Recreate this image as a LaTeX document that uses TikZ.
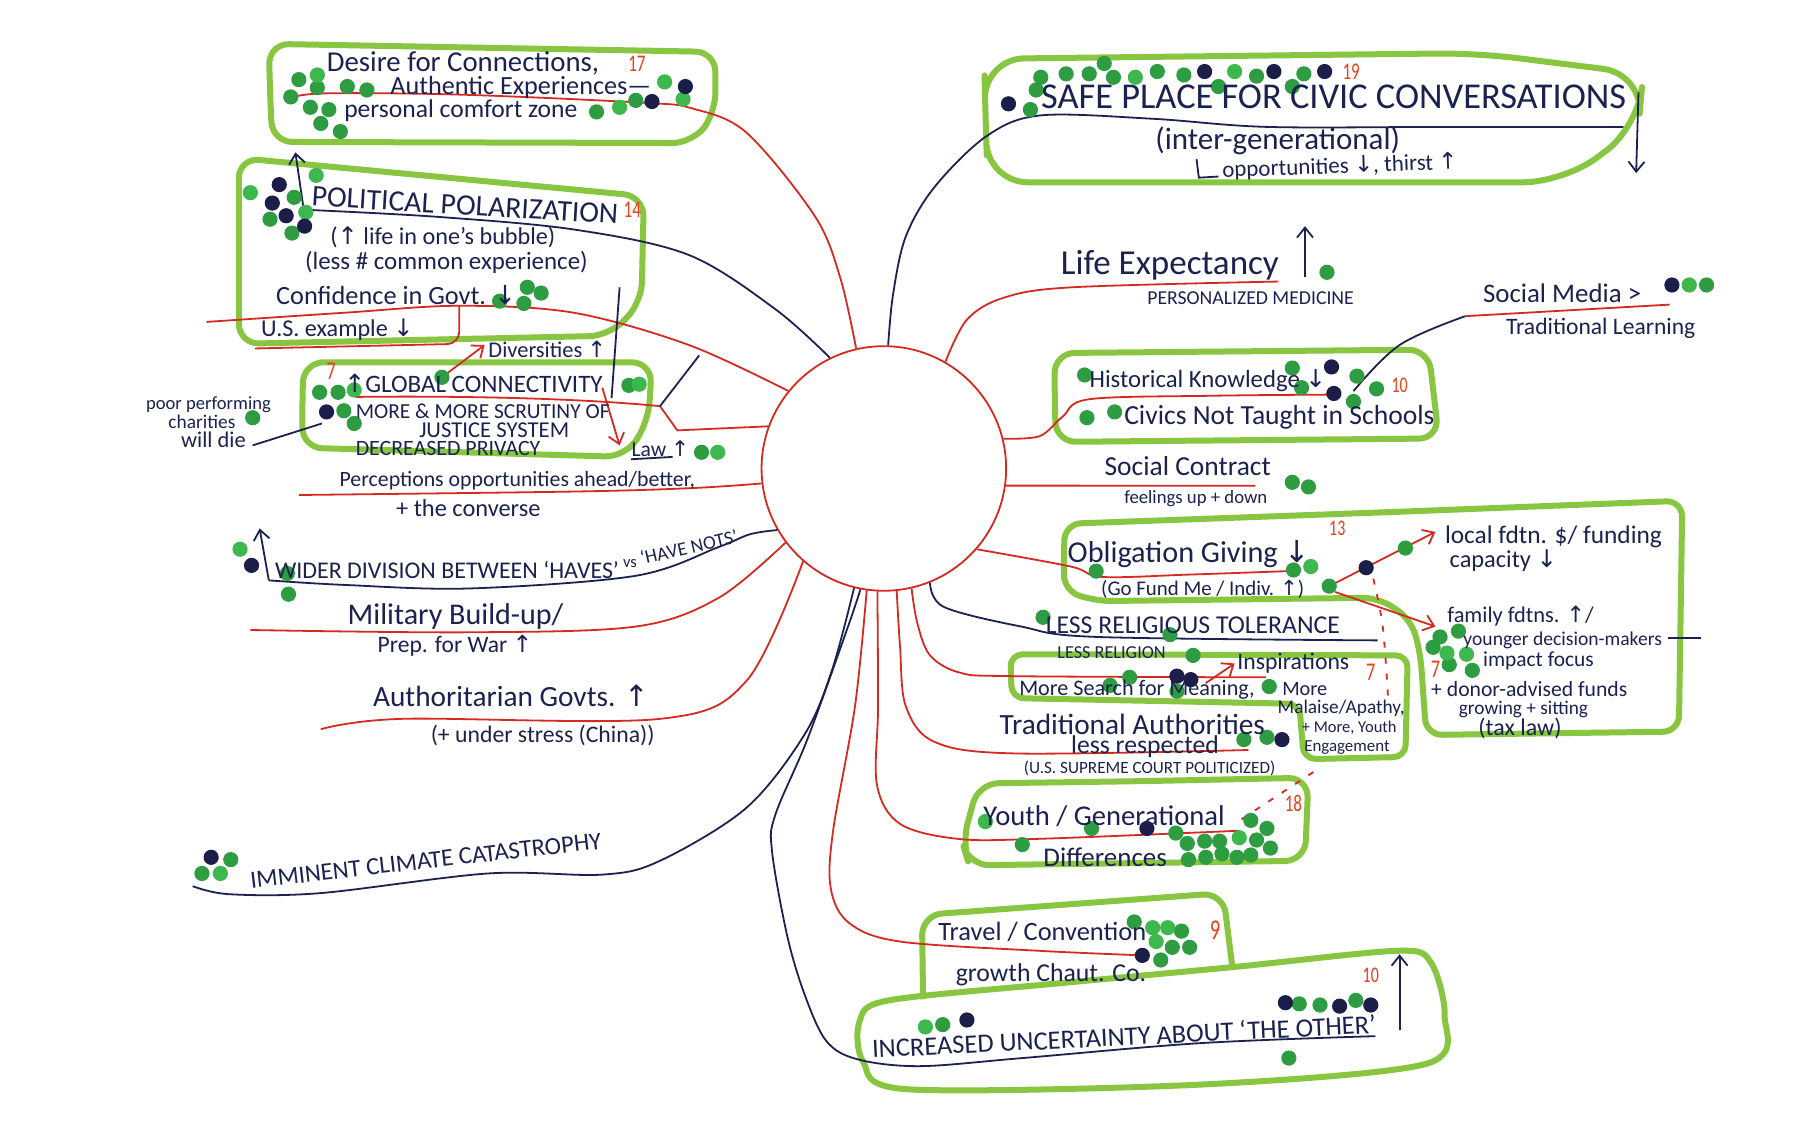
\documentclass[tikz,border=0pt]{standalone}
\usepackage{fontspec}
\usepackage{graphicx}
\setmainfont{Carlito}
\newfontfamily\arrf{DejaVu Sans}
\usetikzlibrary{arrows.meta}
\definecolor{inkc}{HTML}{1C2250}
\definecolor{redc}{HTML}{D42A22}
\definecolor{navc}{HTML}{1C2250}
\definecolor{boxc}{HTML}{88C540}
\definecolor{dotg}{HTML}{2E9C40}
\definecolor{dotl}{HTML}{3DB84C}
\definecolor{dotn}{HTML}{1A1E48}
\definecolor{numc}{HTML}{E8401C}
\newdimen\UX \UX=0.577pt
\newcommand\HW[3][1.0]{\resizebox{#2\UX}{!}{\scalebox{1}[#1]{#3}}}
\newcommand\UPa{{\arrf ↑}}
\newcommand\DNa{{\arrf ↓}}
\tikzset{
  ink/.style={text=inkc, inner sep=0pt},
  num/.style={text=numc, inner sep=0pt},
  redl/.style={draw=redc, line width=0.9pt},
  navl/.style={draw=navc, line width=0.9pt},
  gbox/.style={draw=boxc, line width=3pt, rounded corners=10pt, line join=round},
  harrow/.style={-{Straight Barb[length=5pt,width=8pt]}},
  dashr/.style={draw=redc, line width=0.9pt, dash pattern=on 3pt off 5pt}
}
\begin{document}
\begin{tikzpicture}[x=0.577pt,y=-0.577pt]
\fill[white] (0,0) rectangle (1560,976);
\useasboundingbox (0,0) rectangle (1560,976);

% ---------- green boxes ----------
\draw[gbox] (234,80) -- (233,38) -- (620,45) -- (620,98) -- (600,124) -- (236,123) -- cycle;
\draw[gbox] (207,220) -- (207,137) -- (558,170) -- (556,262) -- (528,291) -- (207,298) -- cycle;
\draw[gbox] (262,350) -- (263,314) -- (565,314) -- (562,365) -- (542,396) -- (262,388) -- cycle;
\draw[gbox, rounded corners=20pt] (854,100) -- (853,51) -- (1280,46) -- (1424,64) -- (1420,110) -- (1355,158) -- (856,158) -- cycle;
\draw[gbox] (914,340) -- (914,306) -- (1238,303) -- (1247,380) -- (915,383) -- cycle;
\draw[gbox, rounded corners=8pt] (922,480) -- (923,454) -- (1200,444) -- (1458,434) -- (1455,634) -- (1236,637) -- (1231,566) -- (1223,537) -- (1195,518) -- (950,521) -- (922,512) -- cycle;
\draw[gbox, rounded corners=6pt] (876,585) -- (876,567) -- (1220,568) -- (1218,656) -- (1130,658) -- (1126,610) -- (877,605) -- cycle;
\draw[gbox] (990,677) -- (1134,674) -- (1131,746) -- (840,750) -- (834,730) -- (848,679) -- cycle;
\draw[gbox] (800,866) -- (799,793) -- (1060,774) -- (1068,838);
\draw[gbox, rounded corners=0pt] plot[smooth cycle, tension=0.5] coordinates {(770,867) (920,852) (1070,838) (1211,824) (1240,834) (1252,880) (1236,922) (1040,940) (786,944) (748,920) (745,885)};

% ---------- hub ----------
\node[circle, draw=redc, line width=0.9pt, minimum size=122.3pt, inner sep=0pt] (hub) at (766,406) {};

% ---------- connectors ----------
\draw[redl] plot[smooth,tension=0.55] coordinates {(hub.103.6) (728,240) (706,187) (647,115) (600,94) (557,89) (398,82) (279,81) (249,86)};
\draw[navl] plot[smooth,tension=0.55] coordinates {(hub.88.4) (774,255) (785,205) (810,162) (855,118) (902,100) (1000,103) (1098,110) (1250,110) (1407,110)};
\draw[navl] plot[smooth,tension=0.55] coordinates {(hub.116.3) (672,268) (597,221) (498,199) (380,188) (269,182)};
\draw[redl] plot[smooth,tension=0.55] coordinates {(hub.141.5) (597,299) (497,271) (398,265) (299,271) (179,279)};
\coordinate (cUS) at (398,265);
\draw[redl, rounded corners=6pt] (cUS) -- (398,298) -- (221,302);
\coordinate (cGl) at (572,352);
\draw[redl] (hub.160) -- (587,373) -- (cGl) .. controls (500,345) and (400,343) .. (308,344);
\draw[navl] (cGl) -- (606,308);
\draw[redl] plot[smooth,tension=0.55] coordinates {(hub.187) (600,423) (498,426) (259,429)};
\draw[navl] plot[smooth,tension=0.55] coordinates {(hub.210.5) (650,463) (623,474) (551,499) (407,510) (300,507) (233,503)};
\coordinate (cWi) at (233,503);
\draw[navl, harrow] (cWi) -- (225,458);
\draw[redl] plot[smooth,tension=0.55] coordinates {(hub.217.7) (623,518) (551,543) (407,548) (217,546)};
\draw[redl] plot[smooth,tension=0.55] coordinates {(hub.229) (647,590) (572,623) (348,623) (278,632)};
\draw[navl] plot[smooth,tension=0.55] coordinates {(hub.256.9) (721,581) (697,637) (647,700) (572,746) (522,758) (423,757) (278,774) (199,775) (167,768)};
\draw[navl] plot[smooth,tension=0.55] coordinates {(hub.259.1) (736,540) (700,640) (672,706) (669,737) (682,810) (697,861) (716,902) (743,918) (797,924) (886,917) (1041,904) (1192,898)};
\draw[redl] plot[smooth,tension=0.55] coordinates {(hub.262.4) (741,612) (722,720) (720,770) (736,800) (780,816) (900,824) (991,828)};
\draw[redl] plot[smooth,tension=0.55] coordinates {(hub.267.8) (761,612) (760,680) (780,714) (830,727) (900,727) (1073,720)};
\draw[redl] plot[smooth,tension=0.55] coordinates {(hub.276) (780,560) (785,612) (810,643) (880,653) (1082,650)};
\draw[redl] plot[smooth,tension=0.55] coordinates {(hub.283.1) (795,540) (806,568) (832,583) (878,586) (1097,587)};
\draw[navl] plot[smooth,tension=0.55] coordinates {(hub.292.2) (818,526) (885,543) (950,552) (1194,555)};
\draw[redl] plot[smooth,tension=0.55] coordinates {(hub.60) (838,277) (870,258) (929,249) (1108,244)};
\draw[redl] plot[smooth,tension=0.55] coordinates {(hub.14.8) (901,378) (921,361) (944,346) (1050,343) (1153,342)};
\draw[redl] (hub.352.6) -- (1088,421);
\draw[redl] plot[smooth,tension=0.55] coordinates {(hub.319.7) (928,491) (955,500) (1030,498) (1115,495)};
\coordinate (cSM) at (1270,274);
\draw[navl] plot[smooth,tension=0.6] coordinates {(1173,339) (1213,299) (cSM)};
\draw[redl] (cSM) -- (1447,264);

% ---------- arrows and marks ----------
\draw[navl, harrow] (264,187) -- (256,132);
\draw[navl, harrow] (1420,80) -- (1418,150);
\draw[navl, harrow] (1131,240) -- (1131,196);
\draw[navl, harrow] (1213,893) -- (1213,827);
\draw[navl] (537,249) -- (530,345);
\draw[redl, harrow] (383,327) -- (420,299);
\draw[redl, harrow] (522,336) -- (537,386);
\draw[redl, harrow] (1152,508) -- (1244,461);
\draw[redl, harrow] (1157,513) -- (1244,543);
\draw[redl, harrow] (1045,592) -- (1070,575);
\draw[dashr] plot[smooth] coordinates {(1187,488) (1198,540) (1203,605)};
\draw[dashr] (1076,710) -- (1143,666);
\draw[navl] (547,398) -- (583,396);
\draw[navl] (1037,138) -- (1039,154) -- (1056,153);
\draw[navl] (1446,553) -- (1474,553);
\draw[navl] (219,386) -- (279,367);

% ---------- dots ----------
\foreach \x/\y in {259/69,275/76,301/75,318/78,252/84,269/93,285/95,278/107,295/114,551/87,517/97,
  255/171,234/190,253/202,433/261,457/249,469/254,454/263,
  277/340,293/340,298/356,307/367,545/334,383/327,219/362,608/392,249/497,250/515,200/745,175/757,
  902/67,924/64,944/64,957/55,965/67,1003/62,1026/65,1089/66,1130/64,893/95,898/78,1056/75,1120/75,
  1150/236,1479/247,940/325,1120/319,1128/336,1176/326,1193/337,1173/348,942/362,966/357,
  1120/418,1134/422,950/495,1121/494,1152/508,1218/475,1248/552,1264/547,1242/561,1256/576,1276/581,
  904/535,1014/550,1034/568,979/587,962/594,1020/599,1100/595,1078/641,1098/639,
  946/718,886/732,1019/722,1084/711,1098/718,1089/728,1101/735,1029/731,1044/729,1057/729,1030/745,1045/743,1059/740,1072/743,1084/741,
  983/799,1024/807,1016/821,1031/821,1006/832,817/888,1126/870,1144/871,1175/867,1117/917}
  \fill[dotg] (\x,\y) circle[radius=3.8pt];
\foreach \x/\y in {275/65,576/71,592/86,537/93,274/152,217/167,265/184,307/338,554/333,622/392,208/476,191/757,
  984/67,1070/62,1464/247,1136/491,1254/566,1271/567,854/712,1074/726,999/804,1012/804,1002/816,802/890}
  \fill[dotl] (\x,\y) circle[radius=3.8pt];
\foreach \x/\y in {594/75,565/88,242/160,236/176,248/187,264/196,283/357,218/490,183/743,
  1044/62,1104/62,1148/62,874/90,1449/247,1154/318,1156/341,1184/492,1020/586,1032/589,1111/641,994/718,990/828,
  838/884,1114/869,1161/872,1188/871}
  \fill[dotn] (\x,\y) circle[radius=3.8pt];

% ---------- texts ----------
\node[ink,anchor=west] (tDes1) at (283,55) {\HW{236}{Desire for Connections,}};
\node[num] (n17) at (552,55) {\HW[1.4]{15}{17}};
\node[ink,anchor=west] (tDes2) at (338,76) {\HW{226}{Authentic Experiences—}};
\node[ink,anchor=west] (tDes3) at (298,96) {\HW{202}{personal comfort zone}};

\node[ink,rotate=-3.4] (tPol) at (403,178) {\HW{266}{POLITICAL POLARIZATION}};
\node[num] (n14) at (548,182) {\HW[1.4]{15}{14}};
\node[ink,anchor=west] (tPol2) at (286,206) {\HW{195}{(\UPa{} life in one's bubble)}};
\node[ink,anchor=west] (tPol3) at (264,227) {\HW{245}{(less \# common experience)}};
\node[ink,anchor=west] (tConf) at (239,256) {\HW{208}{Confidence in Govt. \DNa}};
\node[ink,anchor=west] (tUS) at (226,286) {\HW{132}{U.S. example \DNa}};

\node[num] (n7a) at (287,322) {\HW[1.4]{8}{7}};
\node[ink,anchor=west] (tGlo) at (298,332) {\HW{224}{\UPa GLOBAL CONNECTIVITY}};
\node[ink,anchor=west] (tGlo2) at (308,356) {\HW{220}{MORE \& MORE SCRUTINY OF}};
\node[ink,anchor=west] (tGlo3) at (363,373) {\HW{130}{JUSTICE SYSTEM}};
\node[ink,anchor=west] (tGlo4) at (308,389) {\HW{160}{DECREASED PRIVACY}};
\node[ink,anchor=west] (tDiv) at (423,303) {\HW{102}{Diversities \UPa}};
\node[ink,anchor=east] (tPoor1) at (235,351) {\HW{108}{poor performing}};
\node[ink] (tPoor2) at (175,366) {\HW{58}{charities}};
\node[ink] (tPoor3) at (185,381) {\HW{56}{will die}};
\node[ink,anchor=west] (tLaw) at (547,389) {\HW{50}{Law \UPa}};

\node[ink,anchor=west] (tPer) at (294,417) {\HW{308}{Perceptions opportunities ahead/better,}};
\node[ink,anchor=west] (tPer2) at (343,440) {\HW{125}{+ the converse}};

\node[ink,anchor=west] (tWid) at (238,494) {\HW{298}{WIDER DIVISION BETWEEN ‘HAVES’}};
\node[ink] (tVs) at (546,488) {\HW{12}{vs}};
\node[ink,rotate=13] (tNots) at (597,474) {\HW{86}{‘HAVE NOTS’}};

\node[ink,anchor=west] (tMil) at (301,534) {\HW{187}{Military Build-up/}};
\node[ink,anchor=west] (tMil2) at (327,560) {\HW{134}{Prep. for War \UPa}};
\node[ink,anchor=west] (tAut) at (323,603) {\HW{239}{Authoritarian Govts. \UPa}};
\node[ink,anchor=west] (tAut2) at (373,637) {\HW{194}{(+ under stress (China))}};
\node[ink,rotate=6.5] (tCli) at (369,746) {\HW{306}{IMMINENT CLIMATE CATASTROPHY}};

\node[ink,anchor=west] (tSafe) at (902,84) {\HW{507}{SAFE PLACE FOR CIVIC CONVERSATIONS}};
\node[num] (n19) at (1171,62) {\HW[1.4]{15}{19}};
\node[ink,anchor=west] (tSafe2) at (1001,122) {\HW{212}{(inter-generational)}};
\node[ink,anchor=west,rotate=2] (tSafe3) at (1059,148) {\HW{204}{opportunities \DNa, thirst \UPa}};

\node[ink,anchor=west] (tLife) at (919,230) {\HW{189}{Life Expectancy}};
\node[ink,anchor=west] (tLife2) at (994,258) {\HW{179}{PERSONALIZED MEDICINE}};
\node[ink,anchor=west] (tSM) at (1285,254) {\HW{137}{Social Media >}};
\node[ink,anchor=west] (tSM2) at (1305,285) {\HW{164}{Traditional Learning}};

\node[ink,anchor=west] (tHis) at (944,330) {\HW{205}{Historical Knowledge \DNa}};
\node[ink,anchor=west] (tHis2) at (974,362) {\HW{269}{Civics Not Taught in Schools}};
\node[num] (n10a) at (1213,334) {\HW[1.4]{14}{10}};
\node[ink,anchor=west] (tSC) at (957,404) {\HW{144}{Social Contract}};
\node[ink,anchor=west] (tSC2) at (974,432) {\HW{124}{feelings up + down}};

\node[ink,anchor=west] (tObl) at (925,480) {\HW{210}{Obligation Giving \DNa}};
\node[num] (n13) at (1159,458) {\HW[1.4]{14}{13}};
\node[ink,anchor=west] (tObl2) at (954,511) {\HW{176}{(Go Fund Me / Indiv. \UPa)}};
\node[ink,anchor=west] (tLoc) at (1252,465) {\HW{188}{local fdtn. \$/ funding}};
\node[ink,anchor=west] (tLoc2) at (1256,486) {\HW{93}{capacity \DNa}};
\node[ink,anchor=west] (tFam) at (1254,534) {\HW{127}{family fdtns. \UPa/}};
\node[ink,anchor=west] (tFam2) at (1268,555) {\HW{172}{younger decision-makers}};
\node[ink,anchor=west] (tFam3) at (1285,573) {\HW{96}{impact focus}};
\node[num] (n7b) at (1244,580) {\HW[1.4]{8}{7}};
\node[ink,anchor=west] (tFam4) at (1240,597) {\HW{170}{+ donor-advised funds}};
\node[ink,anchor=west] (tFam5) at (1264,615) {\HW{112}{growing + sitting}};
\node[ink,anchor=west] (tFam6) at (1281,631) {\HW{72}{(tax law)}};

\node[ink,anchor=west] (tRel) at (906,542) {\HW{255}{LESS RELIGIOUS TOLERANCE}};
\node[ink,anchor=west] (tRel2) at (916,566) {\HW{94}{LESS RELIGION}};
\node[ink,anchor=west] (tIns) at (1072,575) {\HW{97}{Inspirations}};
\node[num] (n7c) at (1188,583) {\HW[1.4]{8}{7}};
\node[ink,anchor=west] (tMS) at (883,598) {\HW{204}{More Search for Meaning,}};
\node[ink,anchor=west] (tMS2) at (1111,597) {\HW{39}{More}};
\node[ink,anchor=west] (tMS3) at (1107,614) {\HW{110}{Malaise/Apathy,}};
\node[ink,anchor=west] (tMS4) at (1128,631) {\HW{82}{+ More, Youth}};
\node[ink,anchor=west] (tMS5) at (1130,648) {\HW{74}{Engagement}};

\node[ink,anchor=west] (tTA) at (866,628) {\HW{230}{Traditional Authorities}};
\node[ink,anchor=west] (tTA2) at (928,647) {\HW{128}{less respected}};
\node[ink,anchor=west] (tTA3) at (887,666) {\HW{218}{(U.S. SUPREME COURT POLITICIZED)}};

\node[ink,anchor=west] (tYo) at (852,707) {\HW{209}{Youth / Generational}};
\node[ink,anchor=west] (tYo2) at (904,743) {\HW{107}{Differences}};
\node[num] (n18) at (1121,696) {\HW[1.4]{15}{18}};

\node[ink,anchor=west] (tTr) at (813,808) {\HW{180}{Travel / Convention}};
\node[ink,anchor=west] (tTr2) at (828,845) {\HW{165}{growth Chaut. Co.}};
\node[num] (n9) at (1053,806) {\HW[1.4]{9}{9}};

\node[ink,rotate=2.8] (tInc) at (974,898) {\HW{437}{INCREASED UNCERTAINTY ABOUT ‘THE OTHER’}};
\node[num] (n10b) at (1188,845) {\HW[1.4]{14}{10}};
\end{tikzpicture}
\end{document}
